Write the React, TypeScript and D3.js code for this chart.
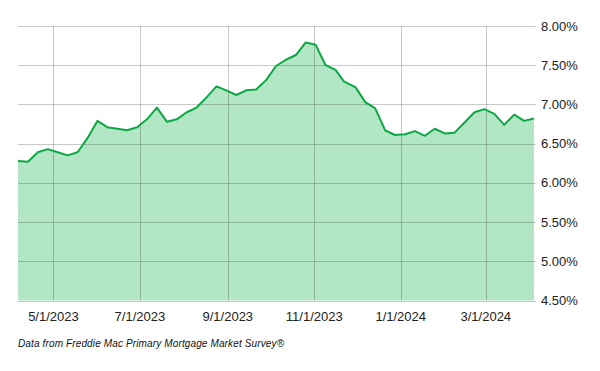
import React, { useEffect, useRef } from 'react';
import * as d3 from 'd3';

// Freddie Mac PMMS 30-yr fixed, weekly
const dates = [
  '2023-04-06', '2023-04-13', '2023-04-20', '2023-04-27', '2023-05-04', '2023-05-11', '2023-05-18', '2023-05-25',
  '2023-06-01', '2023-06-08', '2023-06-15', '2023-06-22', '2023-06-29', '2023-07-06', '2023-07-13', '2023-07-20',
  '2023-07-27', '2023-08-03', '2023-08-10', '2023-08-17', '2023-08-24', '2023-08-31', '2023-09-07', '2023-09-14',
  '2023-09-21', '2023-09-28', '2023-10-05', '2023-10-12', '2023-10-19', '2023-10-26', '2023-11-02', '2023-11-09',
  '2023-11-16', '2023-11-22', '2023-11-30', '2023-12-07', '2023-12-14', '2023-12-21', '2023-12-28', '2024-01-04',
  '2024-01-11', '2024-01-18', '2024-01-25', '2024-02-01', '2024-02-08', '2024-02-15', '2024-02-22', '2024-02-29',
  '2024-03-07', '2024-03-14', '2024-03-21', '2024-03-28', '2024-04-04',
];
const rates = [
  6.28, 6.27, 6.39, 6.43, 6.39, 6.35, 6.39, 6.57,
  6.79, 6.71, 6.69, 6.67, 6.71, 6.81, 6.96, 6.78,
  6.81, 6.90, 6.96, 7.09, 7.23, 7.18, 7.12, 7.18,
  7.19, 7.31, 7.49, 7.57, 7.63, 7.79, 7.76, 7.50,
  7.44, 7.29, 7.22, 7.03, 6.95, 6.67, 6.61, 6.62,
  6.66, 6.60, 6.69, 6.63, 6.64, 6.77, 6.90, 6.94,
  6.88, 6.74, 6.87, 6.79, 6.82,
];
const yTicks = [4.5, 5.0, 5.5, 6.0, 6.5, 7.0, 7.5, 8.0];
const xTicks = ['2023-05-01', '2023-07-01', '2023-09-01', '2023-11-01', '2024-01-01', '2024-03-01'];
const source = 'Data from Freddie Mac Primary Mortgage Market Survey®';

export default function App() {
  const ref = useRef<SVGSVGElement>(null);

  useEffect(() => {
    const svg = d3.select(ref.current);
    svg.selectAll('*').remove();

    const parse = d3.timeParse('%Y-%m-%d');
    const data = dates.map((d, i) => ({ date: parse(d)!, v: rates[i] }));
    const left = 18, right = 534, top = 26, bottom = 300.5;

    const x = d3.scaleTime()
      .domain([parse(dates[0])!, parse(dates[dates.length - 1])!])
      .range([left, right]);
    const y = d3.scaleLinear().domain([4.5, 8]).range([bottom, top]);
    const font = 'Arial, "Liberation Sans", sans-serif';

    const area = d3.area<{ date: Date; v: number }>()
      .x(d => x(d.date)).y0(bottom).y1(d => y(d.v));
    const line = d3.line<{ date: Date; v: number }>()
      .x(d => x(d.date)).y(d => y(d.v));

    svg.append('path').datum(data).attr('d', area).attr('fill', '#b2e6c4');

    const grid = svg.append('g');
    grid.selectAll('.h').data(yTicks).enter().append('line')
      .attr('x1', left).attr('x2', right + 2)
      .attr('y1', d => Math.round(y(d)) + 0.5).attr('y2', d => Math.round(y(d)) + 0.5)
      .attr('stroke', '#000').attr('stroke-opacity', 0.21);
    grid.selectAll('.v').data(xTicks).enter().append('line')
      .attr('x1', d => Math.round(x(parse(d)!)) + 0.5).attr('x2', d => Math.round(x(parse(d)!)) + 0.5)
      .attr('y1', top).attr('y2', bottom)
      .attr('stroke', '#000').attr('stroke-opacity', 0.21);

    svg.append('path').datum(data).attr('d', line)
      .attr('fill', 'none').attr('stroke', '#0ca845').attr('stroke-width', 2)
      .attr('stroke-linejoin', 'round');

    svg.selectAll('.yl').data(yTicks).enter().append('text')
      .attr('x', 541).attr('y', d => y(d) + 4.5)
      .attr('font-family', font).attr('font-size', 13).attr('fill', '#222')
      .text(d => d.toFixed(2) + '%');

    const fmt = d3.timeFormat('%-m/%-d/%Y');
    svg.selectAll('.xl').data(xTicks).enter().append('text')
      .attr('x', d => x(parse(d)!)).attr('y', 320.5)
      .attr('text-anchor', 'middle')
      .attr('font-family', font).attr('font-size', 13).attr('fill', '#222')
      .text(d => fmt(parse(d)!));

    svg.append('text')
      .attr('x', 18).attr('y', 347)
      .attr('font-family', font).attr('font-size', 10).attr('font-style', 'italic')
      .attr('textLength', 266).attr('lengthAdjust', 'spacing')
      .attr('fill', '#111')
      .text(source);
  }, []);

  return (
    <svg ref={ref} width={600} height={371}
      style={{ position: 'absolute', left: 0, top: 0, background: '#fff' }} />
  );
}
